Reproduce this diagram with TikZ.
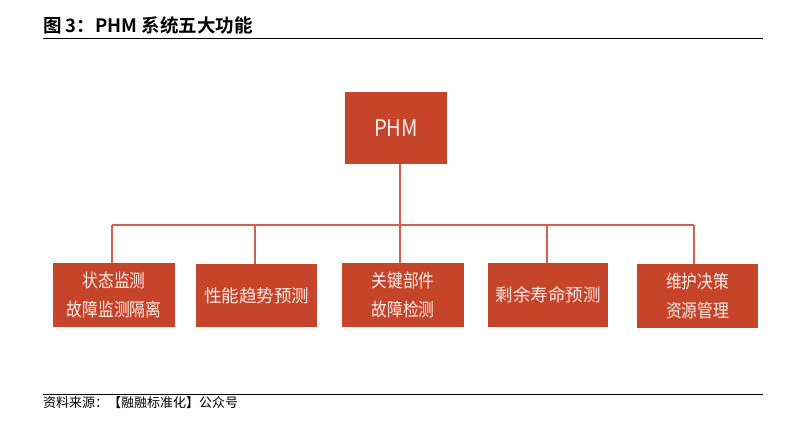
\documentclass[tikz,border=0pt]{standalone}
\usepackage{fontspec}
\setmainfont{Noto Sans CJK SC}
\newfontfamily\cjk{Noto Sans CJK SC}
\newfontfamily\cjknarrow[FakeStretch=0.86]{Noto Sans CJK SC}
\newfontfamily\cjkbold{Noto Sans CJK SC Bold}
\definecolor{boxred}{HTML}{C5442A}
\definecolor{linered}{HTML}{D2604B}
\definecolor{boxtext}{HTML}{FBEDE8}
\tikzset{
  fbox/.style={fill=boxred, draw=none, inner sep=0pt, align=center, text=boxtext,
    font=\cjk\fontsize{17.5}{27}\selectfont, minimum height=64pt},
  fboxtwo/.style={fbox, font=\cjknarrow\fontsize{18.3}{29}\selectfont},
  conn/.style={draw=linered, line width=1.3pt},
  rulel/.style={draw=black, line width=1pt}
}
\begin{document}
\begin{tikzpicture}[x=1pt,y=-1pt]
\useasboundingbox (0,0) rectangle (786,436);
% title
\node[anchor=west, inner sep=0pt, font=\cjkbold\fontsize{18.5}{20}\selectfont] (title) at (43,25) {图 3：PHM 系统五大功能};
\coordinate (r1a) at (43,39);
\coordinate (r1b) at (763,39);
\draw[rulel] (r1a) -- (r1b);
% boxes
\node[fbox, minimum width=102pt, minimum height=72pt] (phm) at (396,128) {\scalebox{0.88}[1]{\fontsize{23}{25}\selectfont PHM}};
\node[fboxtwo, minimum width=122pt] (b1) at (114,295) {状态监测\\故障监测隔离};
\node[fbox, minimum width=121pt, minimum height=63pt] (b2) at (256.5,295.5) {性能趋势预测};
\node[fboxtwo, minimum width=122pt] (b3) at (403,295) {关键部件\\故障检测};
\node[fbox, minimum width=120pt] (b4) at (548,295) {剩余寿命预测};
\node[fboxtwo, minimum width=121pt] (b5) at (697.5,296) {维护决策\\资源管理};
% connectors
\coordinate (j1) at (112,225);
\coordinate (j2) at (255,225);
\coordinate (j3) at (400,225);
\coordinate (j4) at (547,225);
\coordinate (j5) at (694,225);
\draw[conn] (j1) -- (j5);
\draw[conn] (j3 |- phm.south) -- (j3 |- b3.north);
\draw[conn] (j1) -- (j1 |- b1.north);
\draw[conn] (j2) -- (j2 |- b2.north);
\draw[conn] (j4) -- (j4 |- b4.north);
\draw[conn] (j5) -- (j5 |- b5.north);
% footer
\coordinate (r2a) at (43,394);
\coordinate (r2b) at (763,394);
\draw[rulel] (r2a) -- (r2b);
\node[anchor=west, inner sep=0pt, font=\cjk\fontsize{13}{15}\selectfont] (src) at (43,403) {资料来源：【融融标准化】公众号};
\end{tikzpicture}
\end{document}
